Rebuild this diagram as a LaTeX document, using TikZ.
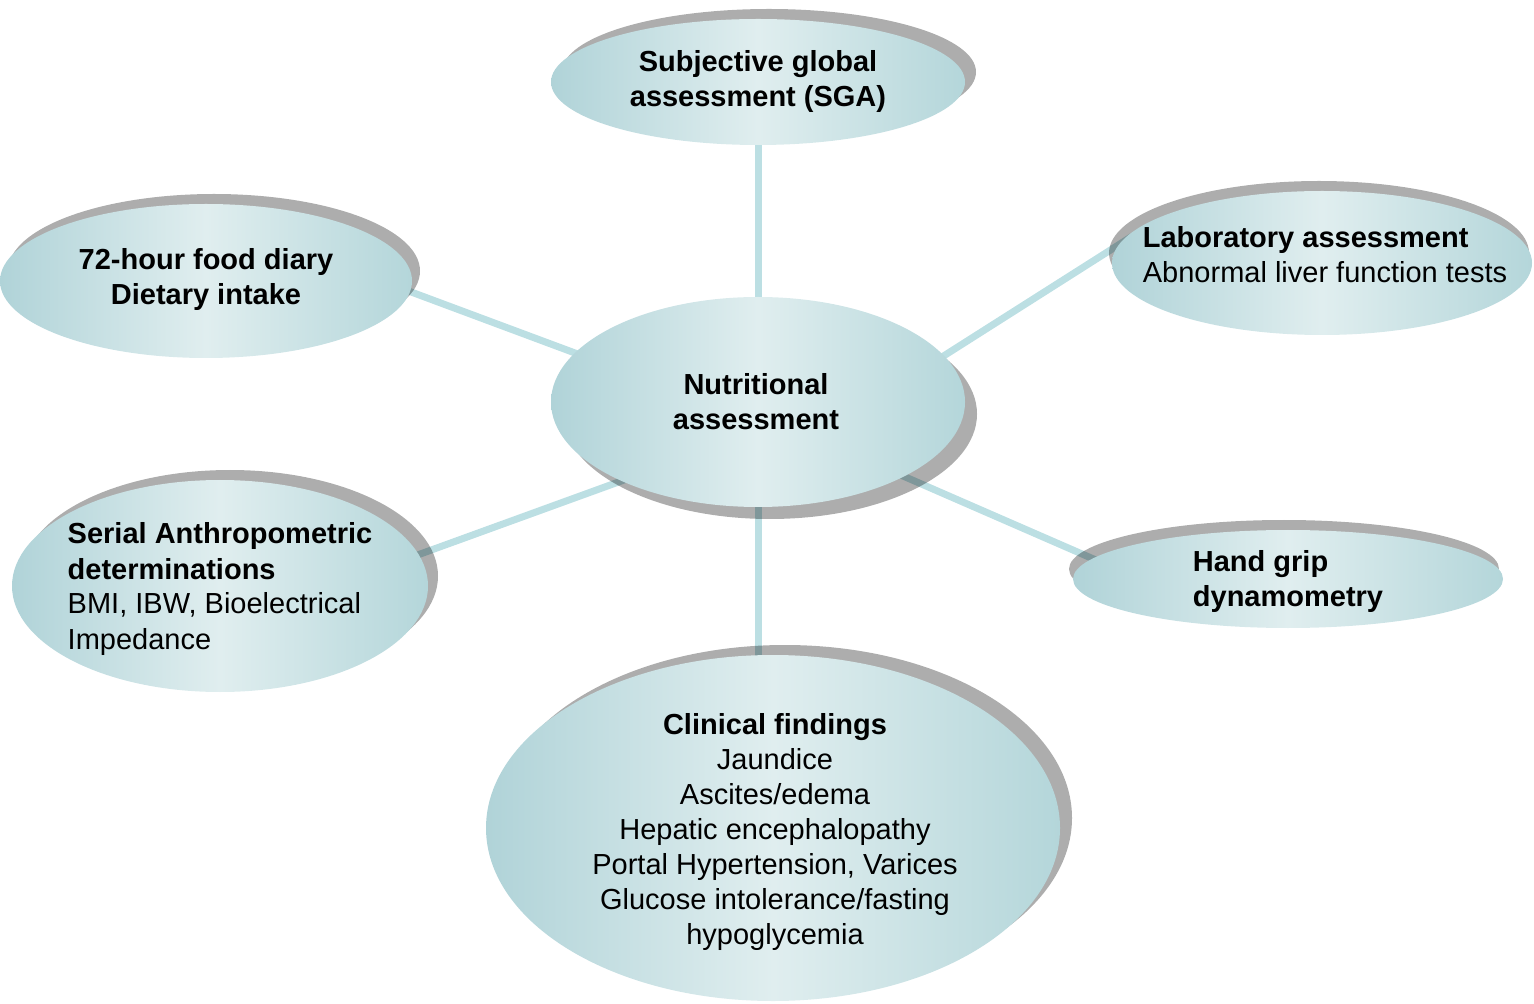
\documentclass[tikz,border=0pt]{standalone}
\usepackage{fontspec}
\setmainfont{Liberation Sans}
\usetikzlibrary{shapes.geometric,shadows}
\pgfdeclarelayer{background}
\pgfsetlayers{background,main}
\definecolor{edgeL}{RGB}{176,211,216}
\definecolor{edgeR}{RGB}{180,214,218}
\definecolor{midC}{RGB}{224,238,239}
\definecolor{linkC}{RGB}{188,223,227}
\tikzset{
  bub/.style={ellipse, inner sep=0pt, left color=edgeL, right color=edgeR, middle color=midC},
  shad/.style 2 args={drop shadow={shadow xshift=#1, shadow yshift=#2, fill=black, opacity=0.32}},
  txt/.style={inner sep=0pt, font=\fontsize{14.5pt}{17.5pt}\selectfont},
  link/.style={draw=linkC, line width=3.5pt, shorten <=-8pt, shorten >=-8pt}
}
\begin{document}
\begin{tikzpicture}[x=0.5pt,y=-0.5pt]
\useasboundingbox (0,0) rectangle (1534,1004);
% bubbles
\node[bub, shad={5.5pt}{5pt}, minimum width=207pt, minimum height=63pt] (sga) at (758,82) {};
\node[bub, shad={4pt}{5pt}, minimum width=206pt, minimum height=77pt] (diary) at (206,281) {};
\node[bub, shad={-1.5pt}{5pt}, minimum width=210pt, minimum height=72pt] (lab) at (1322,263) {};
\node[bub, shad={6pt}{-6pt}, minimum width=207pt, minimum height=105pt] (central) at (758,402) {};
\node[bub, shad={5pt}{5pt}, minimum width=208pt, minimum height=106pt] (serial) at (220,586) {};
\node[bub, shad={-2pt}{5pt}, minimum width=215pt, minimum height=49pt] (grip) at (1288,579) {};
\node[bub, shad={6pt}{5pt}, minimum width=287pt, minimum height=173pt] (clin) at (773,828) {};
% texts
\node[txt, align=center] (sgaT) at (758,82) {\textbf{Subjective global}\\\textbf{assessment (SGA)}};
\node[txt, align=center] (diaryT) at (206,280) {\textbf{72-hour food diary}\\\textbf{Dietary intake}};
\node[txt, align=left] (labT) at (1325,255) {\textbf{Laboratory assessment}\\Abnormal liver function tests};
\node[txt, align=center] (centralT) at (756,402) {\textbf{Nutritional}\\\textbf{assessment}};
\node[txt, align=left] (serialT) at (220,589) {\textbf{Serial Anthropometric}\\\textbf{determinations}\\BMI, IBW, Bioelectrical\\Impedance};
\node[txt, align=left] (gripT) at (1288,582) {\textbf{Hand grip}\\\textbf{dynamometry}};
\node[txt, align=center] (clinT) at (775,832) {\textbf{Clinical findings}\\Jaundice\\Ascites/edema\\Hepatic encephalopathy\\Portal Hypertension, Varices\\Glucose intolerance/fasting\\hypoglycemia};
% connectors
\begin{pgfonlayer}{background}
\draw[link] (sga.south) -- (central.north);
\draw[link] (central.south) -- (central.south |- clin.north);
\draw[link] (central.165.7) -- (diary.-3);
\draw[link] (central.210.4) -- (serial.9);
\draw[link] (central.14.8) -- (lab.175.6);
\draw[link] (central.-27.6) -- (grip.174.3);
\end{pgfonlayer}
\end{tikzpicture}
\end{document}
